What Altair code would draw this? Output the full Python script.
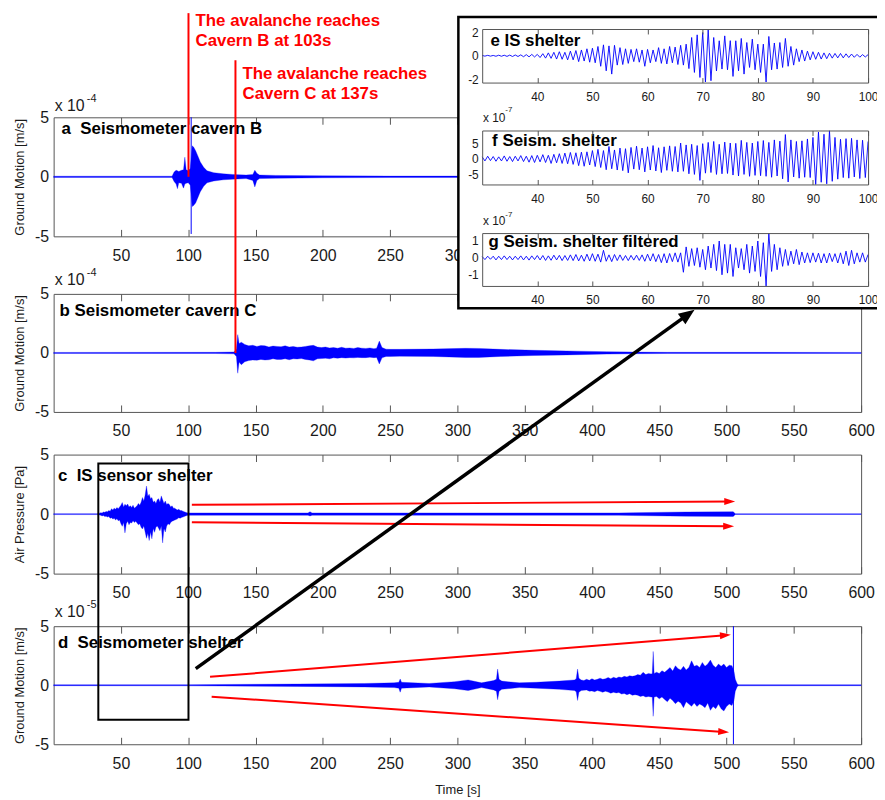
import math
import numpy as np
import pandas as pd
import altair as alt

W, H = 876, 790
FONT = "Liberation Sans"
BLUE = "#0000ff"
RED = "#ff0000"
FRAME = "#555555"
INK = "#1a1a1a"

# ---------------- data ----------------
MAIN_TICKS = [50, 100, 150, 200, 250, 300, 350, 400, 450, 500, 550, 600]
A_LABELS = [50, 100, 150, 200, 250, 300]          # the rest sit under the inset box
INSET_TICKS = [40, 50, 60, 70, 80, 90, 100]

# a: seismometer cavern B (x1e-4 m/s), envelope
A_T = [0, 88, 89.5, 91, 92, 93, 95, 96.5, 97.5, 98.5, 100, 101.5, 103, 104, 105.5, 107, 109, 111.5, 114, 119,
       126, 133, 143, 148, 149.5, 151, 153, 165, 200, 250, 300, 400, 500, 600]
A_HI = [0.05, 0.05, 0.4, 0.55, 0.5, 0.45, 0.55, 0.6, 1.65, 0.6, 0.5, 0.7, 2.6, 2.5, 2.2, 1.8, 1.25, 0.8, 0.5, 0.35,
        0.25, 0.2, 0.15, 0.2, 0.55, 0.3, 0.15, 0.12, 0.08, 0.06, 0.06, 0.05, 0.05, 0.05]
A_LO = [-0.05, -0.05, -0.4, -0.6, -1.0, -0.5, -0.55, -0.95, -0.6, -0.55, -0.5, -0.7, -2.5, -2.4, -2.2, -1.8, -1.25, -0.8, -0.5, -0.35,
        -0.25, -0.2, -0.15, -0.3, -0.85, -0.3, -0.15, -0.12, -0.08, -0.06, -0.06, -0.05, -0.05, -0.05]
A_SPIKE_T, A_SPIKE_HI, A_SPIKE_LO = [102.2], [5.0], [-4.8]

# b: seismometer cavern C (x1e-4 m/s)
B_T = [0, 120, 134, 135.8, 136.8, 137.8,
       139.5, 142, 145, 148, 151, 154, 157, 160, 163, 166, 169, 172, 175, 178, 181, 184, 187, 190, 193, 196,
       199, 202, 205, 208, 211, 214, 217, 220, 223, 226, 229, 232, 235, 238, 240, 242, 244, 247, 250,
       257, 282, 306, 316, 332, 357, 381, 389, 411, 431, 456, 600]
B_HI = [0.04, 0.05, 0.08, 0.3, 1.55, 0.8,
        0.9, 0.72, 0.6, 0.65, 0.55, 0.62, 0.6, 0.5, 0.58, 0.55, 0.52, 0.6, 0.5, 0.55, 0.48, 0.5, 0.55, 0.6, 0.64, 0.5,
        0.45, 0.5, 0.42, 0.45, 0.4, 0.48, 0.4, 0.42, 0.38, 0.45, 0.4, 0.38, 0.42, 0.36, 0.4, 1.0, 0.45, 0.32, 0.3,
        0.3, 0.33, 0.39, 0.38, 0.3, 0.22, 0.17, 0.15, 0.1, 0.07, 0.05, 0.04]
B_LO = [-0.04, -0.05, -0.08, -0.3, -1.72, -0.8,
        -1.0, -0.75, -0.65, -0.6, -0.62, -0.55, -0.6, -0.58, -0.5, -0.56, -0.55, -0.5, -0.58, -0.5, -0.52, -0.48, -0.55, -0.6, -0.67, -0.5,
        -0.48, -0.45, -0.5, -0.42, -0.45, -0.4, -0.44, -0.4, -0.42, -0.38, -0.4, -0.4, -0.36, -0.4, -0.38, -0.94, -0.42, -0.3, -0.3,
        -0.28, -0.3, -0.39, -0.38, -0.3, -0.22, -0.17, -0.15, -0.1, -0.07, -0.05, -0.04]

# c: IS sensor shelter (Pa)
C_T = [0, 32,
       34, 35, 36, 37, 38, 39, 40, 41, 42, 43, 44, 45, 46, 47, 48, 49, 50, 51, 52, 53,
       54, 55, 56, 57, 58, 59, 60, 61, 62, 63, 64, 65, 66, 67, 68, 69, 70, 71, 72, 73,
       74, 75, 76, 77, 78, 79, 80, 81, 82, 83, 84, 85, 86, 87, 88, 89, 90, 91, 92, 93,
       94, 95, 96, 97, 98, 99, 100,
       102, 189, 190.5, 192, 300, 420, 431, 470, 505, 506.5, 600]
C_HI = [0.04, 0.04,
        0.08, 0.12, 0.1, 0.18, 0.15, 0.22, 0.2, 0.3, 0.25, 0.45, 0.35, 0.5, 0.4, 0.55, 0.45, 0.6, 0.75, 0.97, 0.6, 0.83,
        0.7, 0.85, 0.6, 0.7, 0.55, 0.75, 0.5, 0.6, 0.7, 0.9, 0.75, 1.0, 1.39, 1.1, 1.6, 2.36, 1.5, 1.67, 1.3, 1.39,
        1.0, 1.1, 0.9, 1.2, 1.3, 1.0, 1.53, 1.2, 0.9, 1.1, 0.8, 0.9, 0.8, 0.6, 0.7, 0.5, 0.5, 0.4, 0.35, 0.4,
        0.3, 0.3, 0.25, 0.2, 0.15, 0.12, 0.1,
        0.1, 0.1, 0.2, 0.1, 0.1, 0.1, 0.12, 0.18, 0.2, 0.03, 0.03]
C_LO = [-0.04, -0.04,
        -0.08, -0.1, -0.15, -0.12, -0.2, -0.18, -0.25, -0.2, -0.35, -0.3, -0.42, -0.35, -0.5, -0.4, -0.55, -0.5, -0.8, -1.03, -0.7, -1.58,
        -0.8, -0.6, -0.9, -0.7, -0.75, -0.55, -0.7, -0.6, -0.75, -0.9, -0.8, -1.1, -1.25, -1.0, -1.5, -2.03, -1.6, -2.22, -1.5, -2.08,
        -1.2, -1.53, -1.1, -1.0, -1.19, -1.4, -1.0, -2.42, -1.2, -1.5, -1.0, -0.8, -0.9, -0.7, -0.6, -0.55, -0.5, -0.45, -0.4, -0.3,
        -0.35, -0.28, -0.25, -0.2, -0.15, -0.12, -0.1,
        -0.1, -0.1, -0.15, -0.1, -0.1, -0.1, -0.12, -0.18, -0.2, -0.03, -0.03]

# d: seismometer shelter (x1e-5 m/s)
D_T = [0, 100, 150, 181, 206, 231, 253, 256.5, 257.5, 258.5, 279, 298, 308, 318, 327, 329, 329.9, 331, 333, 346,
       358.6, 375.8, 387, 388.3, 389.3, 390.3,
       392, 394, 396, 398, 400, 402, 404, 406, 408, 410, 412, 414, 416, 418, 420, 422, 424, 426, 428, 430,
       432, 434, 436, 438, 440, 442, 444, 444.8, 445.5, 446.2, 448, 450, 452, 454, 456, 458, 460, 462, 464, 466,
       468, 470, 472, 474, 476, 478, 480, 482, 484, 486, 488, 490, 492, 494, 496, 498, 500, 502, 504, 505.5, 506.5, 508, 509,
       600]
D_HI = [0.04, 0.05, 0.08, 0.1, 0.12, 0.15, 0.2, 0.25, 0.53, 0.25, 0.15, 0.3, 0.45, 0.2, 0.4, 0.5, 1.37, 0.5, 0.35, 0.2,
        0.25, 0.35, 0.45, 0.55, 1.37, 0.6,
        0.45, 0.4, 0.5, 0.42, 0.55, 0.45, 0.5, 0.6, 0.5, 0.55, 0.65, 0.55, 0.67, 0.6, 0.7, 0.65, 0.75, 0.7, 0.8, 0.75,
        0.8, 0.9, 0.85, 1.09, 0.9, 1.0, 0.95, 1.0, 2.86, 1.0, 1.1, 1.0, 1.23, 1.1, 1.3, 1.5, 1.2, 1.65, 1.4, 1.3,
        1.6, 1.3, 1.5, 2.07, 1.6, 1.7, 1.5, 1.93, 1.6, 1.8, 2.13, 1.7, 1.5, 1.79, 1.6, 1.79, 1.5, 1.7, 1.65, 1.2, 0.5, 0.1, 0.05,
        0.04]
D_LO = [-0.04, -0.05, -0.08, -0.1, -0.12, -0.15, -0.2, -0.25, -0.59, -0.25, -0.15, -0.3, -0.45, -0.2, -0.4, -0.5, -1.23, -0.5, -0.35, -0.2,
        -0.25, -0.35, -0.45, -0.55, -1.29, -0.6,
        -0.45, -0.42, -0.4, -0.5, -0.48, -0.55, -0.45, -0.52, -0.6, -0.5, -0.58, -0.67, -0.6, -0.65, -0.62, -0.75, -0.7, -0.8, -0.72, -0.85,
        -0.8, -0.85, -0.95, -0.9, -1.0, -0.95, -1.0, -1.0, -2.63, -1.0, -0.95, -1.15, -1.0, -1.2, -1.4, -1.1, -1.3, -1.57, -1.35, -1.5,
        -1.9, -1.4, -1.6, -1.79, -1.5, -1.8, -1.6, -1.71, -1.9, -1.5, -2.13, -1.8, -1.99, -1.6, -2.0, -2.18, -1.8, -1.6, -1.71, -1.3, -0.5, -0.1, -0.05,
        -0.04]
D_SPIKE_T, D_SPIKE_HI, D_SPIKE_LO = [505.1], [5.0], [-5.0]

# insets: samples every 0.5 s from 30 s to 100 s
INSET_T = list(np.linspace(30, 100, 141))
E_V = [0.03, -0.03, 0.04, -0.03, 0.03, -0.04, 0.05, -0.04, 0.05, -0.05, 0.06,
       -0.06, 0.07, -0.06, 0.08, -0.08, 0.1, -0.09, 0.12, -0.1, 0.12,
       -0.15, 0.18, -0.2, 0.25, -0.22, 0.3, -0.28, 0.35, -0.3, 0.3,
       -0.35, 0.4, -0.35, 0.45, -0.5, 0.5, -0.45, 0.6, -0.55, 0.65,
       -0.6, 0.8, -0.9, 0.94, -1.29, 0.85, -1.57, 0.9, -0.8, 0.7,
       -0.75, 0.6, -0.65, 0.55, -0.5, 0.6, -0.55, 0.5, -0.9, 0.55,
       -0.6, 0.5, -0.5, 0.7, -0.65, 0.6, -0.7, 0.8, -0.6, 0.75,
       -0.75, 0.9, -0.8, 1.0, -1.1, 1.57, -1.43, 1.8, -1.86, 2.0,
       -2.25, 2.25, -2.14, 1.57, -1.3, 1.29, -1.14, 1.71, -1.2, 1.3,
       -1.77, 1.29, -1.29, 1.49, -1.57, 1.14, -1.0, 1.43, -1.2, 1.0,
       -1.43, 1.0, -2.25, 1.66, -1.2, 1.1, -1.14, 1.14, -1.0, 1.49,
       -0.9, 0.8, -0.8, 0.6, -0.5, 0.5, -0.45, 0.4, -0.35, 0.35,
       -0.3, 0.3, -0.28, 0.25, -0.25, 0.22, -0.2, 0.2, -0.18, 0.2,
       -0.18, 0.17, -0.15, 0.15, -0.13, 0.12, -0.12, 0.1, -0.1, 0.1]
F_V = [0.6, -0.7, 0.8, -0.6, 0.7, -0.8, 0.6, -0.7, 0.9, -0.8, 0.7,
       -0.9, 0.8, -0.7, 1.0, -0.9, 0.8, -1.1, 1.0, -1.2, 1.1,
       -1.0, 1.3, -1.2, 1.1, -1.5, 1.4, -1.3, 1.6, -1.5, 1.8,
       -1.6, 2.0, -1.8, 1.9, -2.2, 2.1, -2.4, 2.2, -2.0, 2.6,
       -2.5, 3.0, -2.8, 2.6, -3.5, 3.9, -3.2, 2.8, -3.6, 3.4,
       -3.8, 3.2, -4.5, 3.6, -3.3, 4.0, -3.5, 3.4, -4.2, 3.8,
       -3.6, 4.2, -3.9, 3.5, -4.4, 3.8, -3.7, 4.1, -4.0, 3.9,
       -4.2, 5.0, -4.0, 4.4, -4.8, 4.6, -5.0, 4.2, -6.9, 4.8,
       -4.6, 5.2, -4.4, 5.5, -5.0, 4.6, -4.8, 5.3, -4.7, 5.0,
       -5.2, 4.9, -5.5, 5.85, -5.0, 5.2, -5.6, 5.0, -5.3, 5.5,
       -5.4, 5.8, -5.6, 5.2, -5.9, 6.0, -5.5, 5.6, -6.4, 7.7,
       -7.4, 6.0, -5.8, 5.5, -6.2, 5.7, -5.9, 6.3, -6.0, 6.8,
       -8.2, 8.5, -7.5, 7.8, -8.0, 8.9, -7.2, 6.8, -6.5, 6.2,
       -6.0, 6.4, -6.2, 6.5, -5.8, 6.0, -6.3, 5.9, -6.0, 5.5]
G_V = [0.08, -0.1, 0.1, -0.08, 0.1, -0.12, 0.1, -0.1, 0.12, -0.1, 0.1,
       -0.12, 0.1, -0.1, 0.12, -0.12, 0.1, -0.13, 0.12, -0.1, 0.14,
       -0.12, 0.14, -0.15, 0.12, -0.14, 0.16, -0.12, 0.15, -0.16, 0.14,
       -0.15, 0.18, -0.16, 0.2, -0.18, 0.16, -0.2, 0.22, -0.18, 0.25,
       -0.2, 0.22, -0.25, 0.45, -0.2, 0.18, -0.22, 0.2, -0.16, 0.18,
       -0.15, 0.14, -0.16, 0.15, -0.13, 0.16, -0.15, 0.18, -0.2, 0.22,
       -0.18, 0.25, -0.22, 0.2, -0.28, 0.25, -0.3, 0.26, -0.22, 0.3,
       -0.25, 0.3, -0.85, 0.65, -0.5, 0.55, -0.45, 0.6, -0.55, 0.5,
       -0.7, 0.7, -0.6, 0.8, -0.75, 1.0, -1.0, 0.8, -0.9, 0.8,
       -1.1, 0.6, -0.6, 0.55, -0.7, 0.8, -0.9, 0.7, -0.8, 1.0,
       -1.1, 0.9, -1.66, 1.45, -0.8, 0.8, -0.7, 0.6, -0.5, 0.5,
       -0.45, 0.4, -0.35, 0.5, -0.4, 0.35, -0.3, 0.3, -0.28, 0.3,
       -0.25, 0.28, -0.3, 0.25, -0.3, 0.28, -0.22, 0.25, -0.3, 0.3,
       -0.35, 0.4, -0.45, 0.45, -0.35, 0.3, -0.25, 0.3, -0.25, 0.2]

# annotations
RED_TEXT_T = [105.4, 105.4, 140.3, 140.3]
RED_TEXT_V = [12.64, 10.98, 8.19, 6.53]
RED_TEXT = ["The avalanche reaches", "Cavern B at 103s", "The avalanche reaches", "Cavern C at 137s"]

# ---------------- layout (view pixels) ----------------
MAIN_XR = [46, 860]
INSET_XR = [478, 867]
PAN = {
    "a": dict(xd=[0, 600], xr=MAIN_XR, yd=[-5, 5], yr=[227, 107]),
    "b": dict(xd=[0, 600], xr=MAIN_XR, yd=[-5, 5], yr=[404, 285]),
    "c": dict(xd=[0, 600], xr=MAIN_XR, yd=[-5, 5], yr=[567, 447]),
    "d": dict(xd=[0, 600], xr=MAIN_XR, yd=[-5, 5], yr=[739, 620]),
    "e": dict(xd=[30, 100], xr=INSET_XR, yd=[-2.3, 2.3], yr=[72, 18]),
    "f": dict(xd=[30, 100], xr=INSET_XR, yd=[-8.2, 9.0], yr=[174.7, 120.3]),
    "g": dict(xd=[30, 100], xr=INSET_XR, yd=[-1.66, 1.47], yr=[277, 223.7]),
    "box": dict(xd=[0, 1], xr=[454, 892], yd=[0, 1], yr=[299.5, 6]),
}

HYPHEN = "datum.value < 0 ? '-' + toString(abs(datum.value)) : toString(datum.value)"


def scale(d, r):
    return alt.Scale(domain=d, range=r, nice=False, zero=False)


def X(p, f="t", axis=None):
    return alt.X(f"{f}:Q", scale=scale(PAN[p]["xd"], PAN[p]["xr"]), axis=axis)


def Y(p, f="v", axis=None):
    return alt.Y(f"{f}:Q", scale=scale(PAN[p]["yd"], PAN[p]["yr"]), axis=axis)


def kxy(p):
    P = PAN[p]
    kx = (P["xr"][1] - P["xr"][0]) / (P["xd"][1] - P["xd"][0])
    ky = (P["yr"][0] - P["yr"][1]) / (P["yd"][1] - P["yd"][0])
    return kx, ky


def ghost(p, xaxis=None, yaxis=None):
    P = PAN[p]
    df = pd.DataFrame({"t": [P["xd"][0]], "v": [P["yd"][0]]})
    enc = {}
    if xaxis is not None:
        enc["x"] = X(p, "t", xaxis)
    if yaxis is not None:
        enc["y"] = Y(p, "v", yaxis)
    return alt.Chart(df).mark_point(opacity=0).encode(**enc)


def frame(p, xvals, yvals, big, ytitle=None, xtitle=None, xlabels=None):
    P = PAN[p]
    B, T = P["yr"]
    L, R = P["xr"]
    base = dict(grid=False, zindex=0 if big else 1, domainColor=FRAME, domainWidth=1, tickColor=FRAME,
                tickWidth=1, labelColor=INK, labelFont=FONT, labelFontSize=16 if big else 12,
                labelFlush=False, labelOverlap=False)
    tick = 7 if big else 5
    tstyle = dict(titleFont=FONT, titleFontSize=13, titleFontWeight="normal", titleColor=INK)
    xt = dict(title=xtitle, titlePadding=13, **tstyle) if xtitle else dict(title=None)
    yt = dict(title=ytitle, titlePadding=8, **tstyle) if ytitle else dict(title=None)
    return [
        ghost(p, xaxis=alt.Axis(orient="bottom", offset=B - H, values=xlabels or xvals, domain=True, ticks=False,
                                tickSize=0, labels=True, labelPadding=11 if big else 9, **xt, **base)),
        ghost(p, xaxis=alt.Axis(orient="top", offset=-B, values=xvals, domain=False, ticks=True, tickSize=tick,
                                labels=False, title=None, **base)),
        ghost(p, xaxis=alt.Axis(orient="bottom", offset=T - H, values=xvals, domain=True, ticks=True, tickSize=tick,
                                labels=False, title=None, **base)),
        ghost(p, yaxis=alt.Axis(orient="left", offset=-L, values=yvals, domain=True, ticks=False, tickSize=0,
                                labels=True, labelPadding=5 if big else 4, labelExpr=HYPHEN, **yt, **base)),
        ghost(p, yaxis=alt.Axis(orient="right", offset=R - W, values=yvals, domain=True, ticks=False, tickSize=0,
                                labels=False, title=None, **base)),
    ]


def band(p, t, hi, lo):
    df = pd.DataFrame({"t": t, "hi": hi, "lo": lo})
    return alt.Chart(df).mark_area(color=BLUE, stroke=BLUE, strokeWidth=0.3, opacity=1).encode(
        x=X(p), y=Y(p, "hi"), y2=alt.Y2("lo"))


def rules(p, t, hi, lo, color=BLUE, width=1.0):
    df = pd.DataFrame({"t": t, "hi": hi, "lo": lo})
    return alt.Chart(df).mark_rule(color=color, strokeWidth=width).encode(
        x=X(p), y=Y(p, "hi"), y2=alt.Y2("lo"))


def wave(p, t, v):
    df = pd.DataFrame({"t": t, "v": v})
    return alt.Chart(df).mark_line(color=BLUE, strokeWidth=0.9).encode(x=X(p), y=Y(p))


def texts(p, t, v, s, size, weight="normal", color=INK):
    df = pd.DataFrame({"t": t, "v": v, "s": s})
    return alt.Chart(df).mark_text(align="left", baseline="alphabetic", font=FONT, fontSize=size,
                                   fontWeight=weight, color=color).encode(x=X(p), y=Y(p), text="s:N")


def arrow(p, t0, v0, t1, v1, color, width, head_len, head_half):
    kx, ky = kxy(p)
    dx, dy = (t1 - t0) * kx, (v1 - v0) * ky
    L = math.hypot(dx, dy)
    ux, uy = dx / L, dy / L
    rot = (90 - math.degrees(math.atan2(dy, dx))) % 360
    back = head_len / 2
    tc, vc = t1 - ux * back / kx, v1 - uy * back / ky
    line = alt.Chart(pd.DataFrame({"t": [t0, tc], "v": [v0, vc]})).mark_line(
        color=color, strokeWidth=width).encode(x=X(p), y=Y(p))
    w = head_half / back
    shape = f"M0,-1L{w:.3f},1L{-w:.3f},1Z"
    head = alt.Chart(pd.DataFrame({"t": [tc], "v": [vc]})).mark_point(
        shape=shape, filled=True, color=color, size=head_len ** 2, angle=rot, opacity=1,
        strokeWidth=0).encode(x=X(p), y=Y(p))
    return [line, head]


NB = "\u00a0"
layers = []
# frames / axes
layers += frame("a", MAIN_TICKS, [-5, 0, 5], True, ytitle="Ground Motion [m/s]", xlabels=A_LABELS)
layers += frame("b", MAIN_TICKS, [-5, 0, 5], True, ytitle="Ground Motion [m/s]")
layers += frame("c", MAIN_TICKS, [-5, 0, 5], True, ytitle="Air Pressure [Pa]")
layers += frame("d", MAIN_TICKS, [-5, 0, 5], True, ytitle="Ground Motion [m/s]", xtitle="Time [s]")
layers += frame("e", INSET_TICKS, [-2, 0, 2], False)
layers += frame("f", INSET_TICKS, [-5, 0, 5], False)
layers += frame("g", INSET_TICKS, [-1, 0, 1], False)

# main traces
layers += [band("a", A_T, A_HI, A_LO), rules("a", A_SPIKE_T, A_SPIKE_HI, A_SPIKE_LO),
           band("b", B_T, B_HI, B_LO),
           band("c", C_T, C_HI, C_LO),
           band("d", D_T, D_HI, D_LO), rules("d", D_SPIKE_T, D_SPIKE_HI, D_SPIKE_LO)]

# scale multipliers and panel labels
layers += [texts("a", [0.74], [5.56], ["x 10"], 16), texts("a", [24.7], [6.31], ["-4"], 11),
           texts("b", [0.74], [5.76], ["x 10"], 16), texts("b", [24.7], [6.51], ["-4"], 11),
           texts("d", [0.74], [5.76], ["x 10"], 16), texts("d", [24.7], [6.51], ["-5"], 11)]
layers += [texts("a", [5.9], [3.61], ["a" + NB + " Seismometer cavern B"], 17, "bold", "black"),
           texts("b", [4.42], [3.09], ["b Seismometer cavern C"], 17, "bold", "black"),
           texts("c", [3.17], [2.78], ["c" + NB + " IS sensor shelter"], 17, "bold", "black"),
           texts("d", [3.17], [3.15], ["d" + NB + " Seismometer shelter"], 17, "bold", "black")]

# red arrows and black selection rectangle
layers += arrow("c", 102.7, 0.78, 506.4, 1.06, RED, 2, 11, 3.5)
layers += arrow("c", 102.7, -0.69, 505.6, -1.03, RED, 2, 11, 3.5)
layers += arrow("d", 116.2, 0.71, 503.2, 4.27, RED, 2, 11, 3.5)
layers += arrow("d", 117.4, -0.97, 501.9, -3.99, RED, 2, 11, 3.5)
layers.append(alt.Chart(pd.DataFrame({"t": [33.2], "t2": [100.2], "v": [4.25], "v2": [-17.28]}))
              .mark_rect(fillOpacity=0, stroke="black", strokeWidth=2)
              .encode(x=X("c"), x2=alt.X2("t2"), y=Y("c"), y2=alt.Y2("v2")))

# red arrival lines and text
layers += [rules("a", [100.2], [13.75], [0.0], RED, 2), rules("b", [135.1], [24.8], [0.0], RED, 2)]
layers.append(texts("a", RED_TEXT_T, RED_TEXT_V, RED_TEXT, 17, "bold", RED))

# inset box
layers.append(alt.Chart(pd.DataFrame({"t": [0], "t2": [1], "v": [0], "v2": [1]}))
              .mark_rect(fill="white", stroke="black", strokeWidth=2.5)
              .encode(x=X("box"), x2=alt.X2("t2"), y=Y("box"), y2=alt.Y2("v2")))

# inset traces and labels
layers += [wave("e", INSET_T, E_V), wave("f", INSET_T, F_V), wave("g", INSET_T, G_V)]
layers += [texts("e", [31.49], [0.88], ["e IS shelter"], 17, "bold", "black"),
           texts("f", [31.8], [4.03], ["f Seism. shelter"], 17, "bold", "black"),
           texts("g", [31.13], [0.65], ["g Seism. shelter filtered"], 17, "bold", "black"),
           texts("f", [30.13], [11.62], ["x 10"], 12), texts("f", [34.19], [14.78], ["-7"], 8),
           texts("g", [30.13], [1.92], ["x 10"], 12), texts("g", [34.19], [2.45], ["-7"], 8)]

# black zoom arrow
layers += arrow("c", 105.6, -12.98, 476.2, 17.17, "black", 3.5, 16, 6.5)

chart = (alt.layer(*layers)
         .resolve_scale(x="independent", y="independent")
         .properties(width=W, height=H, autosize=alt.AutoSizeParams(type="none"), padding=0)
         .configure(font=FONT)
         .configure_view(strokeWidth=0))

chart.save("out.html", embed_options={"renderer": "svg", "actions": False})
